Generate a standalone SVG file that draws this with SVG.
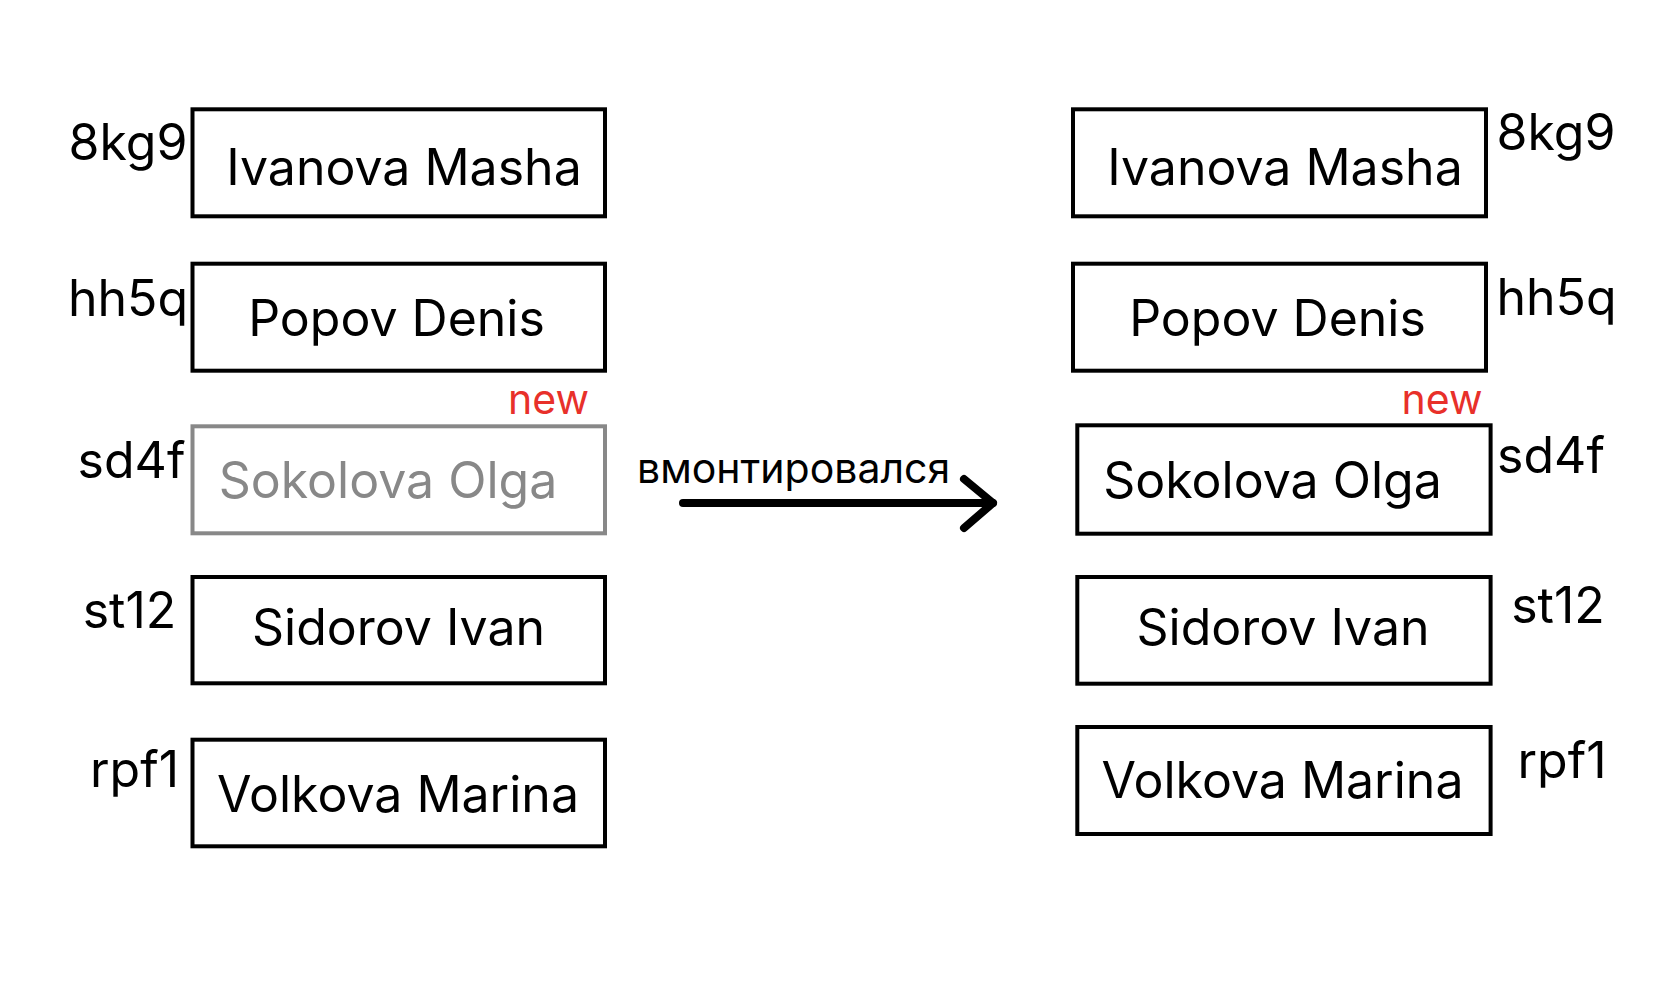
<svg xmlns="http://www.w3.org/2000/svg" width="1656" height="1004" viewBox="0 0 1656 1004">
<style>
.box{fill:#fff;stroke:#000;stroke-width:4}
.gbox{fill:#fff;stroke:#888;stroke-width:4}
text{font-family:Inter,"Noto Sans",sans-serif;text-anchor:middle}
.name{font-size:50px;fill:#000}
.gname{font-size:50px;fill:#888}
.id{font-size:50px;fill:#000}
.new{font-size:41px;fill:#e8302a}
.lbl{font-size:41px;fill:#000;text-anchor:start}
.arr{fill:none;stroke:#000;stroke-width:8;stroke-linecap:round;stroke-linejoin:round}
</style>
<rect width="1656" height="1004" fill="#fff"/>
<g id="left">
<g id="l-ivanova"><rect class="box" x="192.5" y="109.3" width="412.5" height="107"/><text class="name" x="404" y="185">Ivanova Masha</text><text class="id" x="128" y="160">8kg9</text></g>
<g id="l-popov"><rect class="box" x="192.5" y="263.7" width="412.5" height="107"/><text class="name" x="396.5" y="336">Popov Denis</text><text class="id" x="128" y="316">hh5q</text></g>
<g id="l-sokolova"><rect class="gbox" x="192.5" y="426.3" width="412.5" height="107"/><text class="gname" x="388" y="498">Sokolova Olga</text><text class="id" x="131.5" y="478">sd4f</text><text class="new" x="548.5" y="414">new</text></g>
<g id="l-sidorov"><rect class="box" x="192.5" y="577" width="412.5" height="106.3"/><text class="name" x="398.5" y="645">Sidorov Ivan</text><text class="id" x="129.5" y="628">st12</text></g>
<g id="l-volkova"><rect class="box" x="192.5" y="739.7" width="412.5" height="106.6"/><text class="name" x="398" y="812">Volkova Marina</text><text class="id" x="134.5" y="787">rpf1</text></g>
</g>
<g id="right">
<g id="r-ivanova"><rect class="box" x="1073" y="109.3" width="413" height="107"/><text class="name" x="1285" y="185">Ivanova Masha</text><text class="id" x="1556" y="150">8kg9</text></g>
<g id="r-popov"><rect class="box" x="1073" y="263.7" width="413" height="107"/><text class="name" x="1277.5" y="336">Popov Denis</text><text class="id" x="1556.5" y="315">hh5q</text></g>
<g id="r-sokolova"><rect class="box" x="1077.3" y="425.3" width="413.3" height="108.4"/><text class="name" x="1272.5" y="498">Sokolova Olga</text><text class="id" x="1551" y="473">sd4f</text><text class="new" x="1442" y="414">new</text></g>
<g id="r-sidorov"><rect class="box" x="1077.3" y="577" width="413.3" height="106.7"/><text class="name" x="1283" y="645">Sidorov Ivan</text><text class="id" x="1558" y="623">st12</text></g>
<g id="r-volkova"><rect class="box" x="1077.3" y="727" width="413.3" height="107"/><text class="name" x="1282.5" y="798">Volkova Marina</text><text class="id" x="1562" y="778">rpf1</text></g>
</g>
<g id="connectors">
<text class="lbl" x="637" y="483">вмонтировался</text>
<line class="arr" x1="683" y1="503" x2="993" y2="503"/>
<polyline class="arr" points="964,479 993,503 964,528"/>
</g>
</svg>
